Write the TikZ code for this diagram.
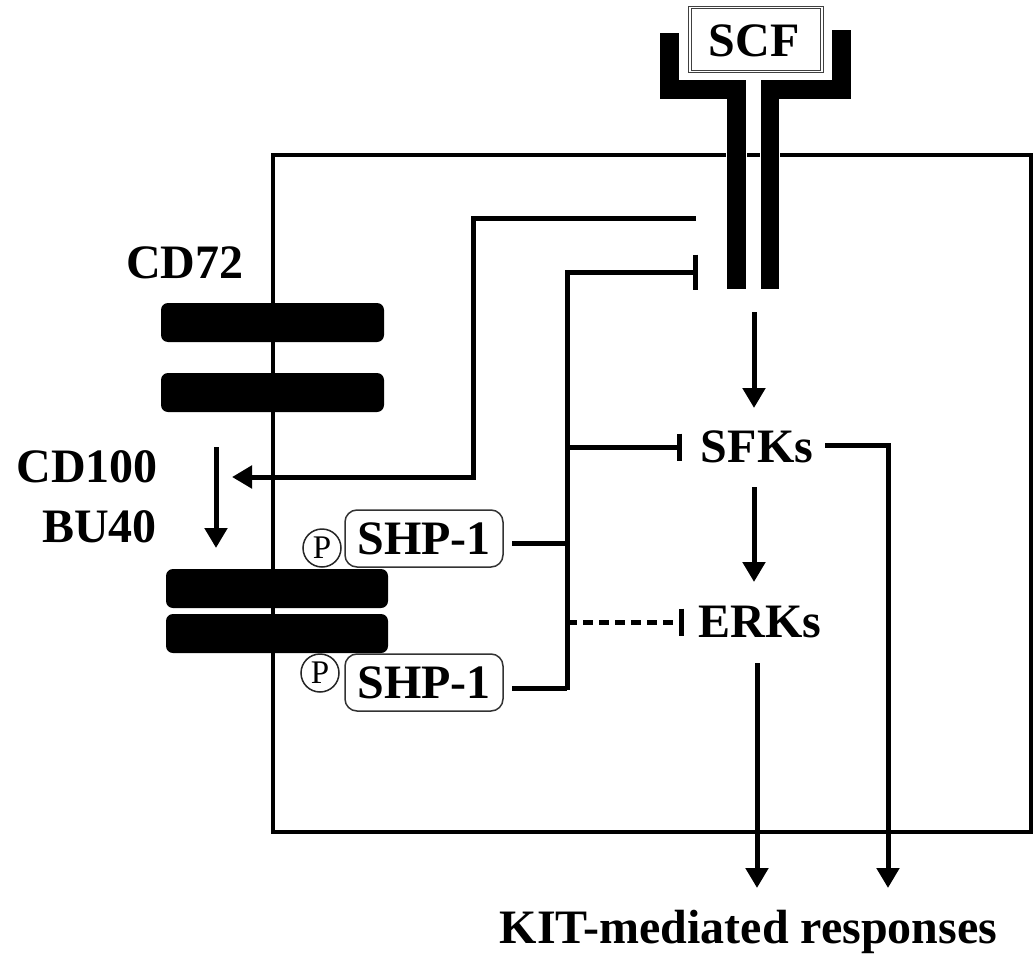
\documentclass[tikz,border=0pt]{standalone}
\usepackage{fontspec}
\setmainfont{Liberation Serif}
\usetikzlibrary{arrows.meta}
\begin{document}
\begin{tikzpicture}[x=1pt,y=-1pt,
  lbl/.style={font=\fontsize{48}{56}\selectfont\bfseries, inner sep=0pt, anchor=base},
  ln/.style={line width=5pt},
  arr/.style={ln,-{Triangle[width=22pt,length=20pt]}},
  inh/.style={ln,-{Bar[width=27pt]}},
  tmbar/.style={fill=black, rounded corners=7pt},
  rcp/.style={fill=black, draw=white, line width=1pt},
  shp/.style={draw=black!80, line width=1.5pt, rounded corners=12pt, minimum width=158pt, minimum height=57pt, inner sep=0pt, font=\fontsize{48}{56}\selectfont\bfseries},
  pcirc/.style={circle, draw=black!85, line width=1.5pt, minimum size=38pt, inner sep=0pt, font=\fontsize{33}{36}\selectfont}
]
\fill[white] (0,0) rectangle (1034,958);
\useasboundingbox (0,0) rectangle (1034,958);

% cell
\draw[line width=4.5pt] (273,155) rectangle (1031,832);

% receptor KIT
\draw[rcp] (659,33) -- (679,33) -- (679,80) -- (746,80) -- (746,289) -- (726,289) -- (726,100) -- (659,100) -- cycle;
\draw[rcp] (851,30) -- (831,30) -- (831,80) -- (760,80) -- (760,289) -- (779,289) -- (779,100) -- (851,100) -- cycle;
\node[draw=black!75, line width=1pt, double=white, double distance=1.2pt, minimum width=132pt, minimum height=64pt, inner sep=0pt] (scfbox) at (756,39.5) {};
\node[lbl] (scf) at (754,57) {SCF};

% CD72 bars
\fill[tmbar] (161,303) rectangle (384,342);
\fill[tmbar] (161,373) rectangle (384,412);
\fill[tmbar] (166,569) rectangle (388,608);
\fill[tmbar] (166,614) rectangle (388,653);

\node[lbl] (cd72) at (185,278) {CD72};
\node[lbl, anchor=base east] (cd100) at (158,482) {CD100};
\node[lbl, anchor=base east] (bu40) at (157,542) {BU40};

% SHP-1
\node[shp] (shp1) at (424,538.5) {SHP-1};
\node[shp] (shp2) at (424,682.5) {SHP-1};
\node[pcirc] (p1) at (322,548) {P};
\node[pcirc] (p2) at (320,673) {P};

% signalling
\node[lbl] (sfk) at (757,462) {SFKs};
\node[lbl] (erk) at (760,637) {ERKs};
\node[lbl] (kit) at (748.5,943) {KIT-mediated responses};

% coordinates
\coordinate (a0) at (696,218);
\coordinate (a1) at (473,218);
\coordinate (a2) at (473,477);
\coordinate (a3) at (232,477);
\coordinate (t0) at (567,690);
\coordinate (t1) at (567,272);
\coordinate (t2) at (698,272);
\coordinate (s0) at (512,543);
\coordinate (s1) at (567,543);
\coordinate (s3) at (512,688);
\coordinate (s2) at (567,688);
\coordinate (bs) at (567,447);
\coordinate (bse) at (682,447);
\coordinate (be) at (567,622);
\coordinate (bee) at (684,622);
\coordinate (r0) at (754,312);
\coordinate (r1) at (754,408);
\coordinate (f0) at (754,487);
\coordinate (f1) at (754,582);
\coordinate (e0) at (757,663);
\coordinate (e1) at (757,888);
\coordinate (g0) at (825,445);
\coordinate (g1) at (888,445);
\coordinate (g2) at (888,888);
\coordinate (d0) at (216,447);
\coordinate (d1) at (216,548);

% connectors
\draw[arr] (a0) -- (a1) -- (a2) -- (a3);
\draw[ln,-{Bar[width=35pt]}] (t0) -- (t1) -- (t2);
\draw[ln] (s0) -- (s1);
\draw[ln] (s3) -- (s2);
\draw[inh] (bs) -- (bse);
\draw[inh, dash pattern=on 10pt off 6pt] (be) -- (bee);
\draw[arr] (r0) -- (r1);
\draw[arr] (f0) -- (f1);
\draw[arr] (e0) -- (e1);
\draw[arr] (g0) -- (g1) -- (g2);
\draw[arr] (d0) -- (d1);
\end{tikzpicture}
\end{document}
